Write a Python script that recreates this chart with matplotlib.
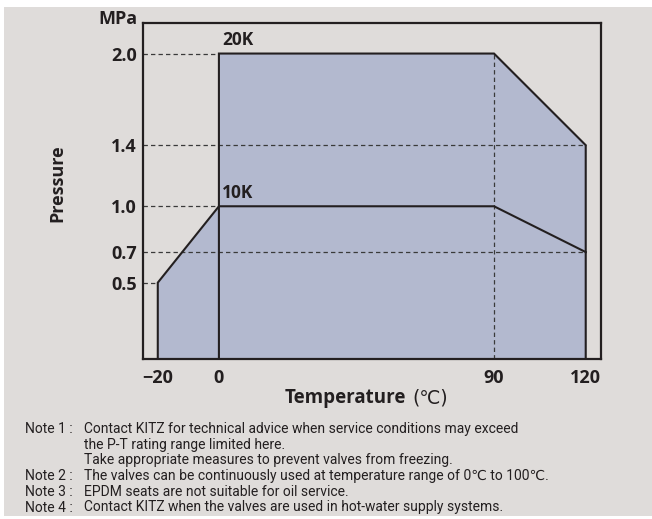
import matplotlib.pyplot as plt
from matplotlib.patches import Rectangle

# P-T rating data (temperature in C, pressure in MPa)
temp_10k = [-20, 0, 90, 120]
pres_10k = [0.5, 1.0, 1.0, 0.7]
temp_20k = [0, 90, 120]
pres_20k = [2.0, 2.0, 1.4]

x_ticks = [-20, 0, 90, 120]
y_ticks = [0.5, 0.7, 1.0, 1.4, 2.0]
y_tick_labels = ['0.5', '0.7', '1.0', '1.4', '2.0']
# where each horizontal guide line stops
guide_end = [-20, 120, 0, 120, 0]
guide_x = 90

notes = [
    ('Note 1 :', 'Contact KITZ for technical advice when service conditions may exceed'),
    ('', 'the P-T rating range limited here.'),
    ('', 'Take appropriate measures to prevent valves from freezing.'),
    ('Note 2 :', 'The valves can be continuously used at temperature range of 0\u2103 to 100\u2103.'),
    ('Note 3 :', 'EPDM seats are not suitable for oil service.'),
    ('Note 4 :', 'Contact KITZ when the valves are used in hot-water supply systems.'),
]

bg = '#dfdcda'
fill = '#b3b9cf'
ink = '#231f20'
bold_font = ['Open Sans', 'DejaVu Sans']
note_font = ['Roboto', 'DejaVu Sans']

W, H = 652, 519
fig = plt.figure(figsize=(W / 100, H / 100), dpi=100, facecolor=bg)
# white margins round the grey panel
for r in [(0, 0, 4 / W, 1), (0, 1 - 7 / H, 1, 7 / H), (0, 0, 1, 3 / H)]:
    fig.patches.append(Rectangle(r[:2], r[2], r[3], transform=fig.transFigure,
                                 facecolor='white', edgecolor='none', zorder=-10))

ax = fig.add_axes([142.5 / W, 1 - 359 / H, (601 - 142.5) / W, (359 - 23) / H])
ax.set_facecolor(bg)
ax.set_xlim(-25, 125)
ax.set_ylim(0, 2.2)

# filled areas
ax.fill_between([temp_10k[0]] + temp_10k, [0] + pres_10k, 0, color=fill, lw=0, zorder=1)
ax.fill_between(temp_20k, pres_20k, 0, color=fill, lw=0, zorder=1)

# guide lines
for y, xe in zip(y_ticks, guide_end):
    ax.plot([-25, xe], [y, y], color='#3a3a3a', lw=0.9, dashes=(3.5, 2.5), zorder=2)
ax.plot([guide_x, guide_x], [0, max(pres_20k)], color='#3a3a3a', lw=0.9, dashes=(3.5, 2.5), zorder=2)

# outlines
lc = dict(color=ink, lw=1.5, zorder=3, solid_joinstyle='miter')
ax.plot([temp_10k[0]] + temp_10k, [0] + pres_10k, **lc)
ax.plot([temp_20k[0]] + temp_20k + [temp_20k[-1]], [0] + pres_20k + [0], **lc)

ax.text(1, pres_20k[0] + 0.03, '20K', fontsize=12.5, fontweight='bold', family=bold_font,
        color=ink, ha='left', va='bottom')
ax.text(1, pres_10k[1] + 0.03, '10K', fontsize=12.5, fontweight='bold', family=bold_font,
        color=ink, ha='left', va='bottom')

ax.set_xticks(x_ticks)
ax.set_xticklabels(['\u221220', '0', '90', '120'])
ax.set_yticks(y_ticks)
ax.set_yticklabels(y_tick_labels)
ax.tick_params(length=0, labelsize=13, labelcolor=ink)
ax.tick_params(axis='x', pad=7)
ax.tick_params(axis='y', pad=4)
for lab in ax.get_xticklabels() + ax.get_yticklabels():
    lab.set_fontweight('bold')
    lab.set_family(bold_font)
for s in ax.spines.values():
    s.set_color(ink)
    s.set_linewidth(1.6)
    s.set_zorder(4)

fig.text(138 / W, 1 - 19 / H, 'MPa', fontsize=13, fontweight='bold', family=bold_font,
         color=ink, ha='right', va='center')
fig.text(57 / W, 1 - 183 / H, 'Pressure', fontsize=13, fontweight='bold', family=bold_font,
         color=ink, rotation=90, ha='center', va='center')
fig.text(406 / W, 1 - 398 / H, 'Temperature', fontsize=13.5, fontweight='bold', family=bold_font,
         color=ink, ha='right', va='center')
fig.text(412 / W, 1 - 398 / H, '(\u2103)', fontsize=13.5, family=['DejaVu Sans'],
         color=ink, ha='left', va='center')

y0 = 429
for i, (tag, body) in enumerate(notes):
    yy = 1 - (y0 + i * 15.7) / H
    if tag:
        fig.text(25 / W, yy, tag, fontsize=10, family=note_font, color=ink, ha='left', va='center')
    fig.text(84 / W, yy, body, fontsize=10, family=note_font, color=ink, ha='left', va='center')

fig.savefig('out.png', dpi=100, facecolor=bg)
